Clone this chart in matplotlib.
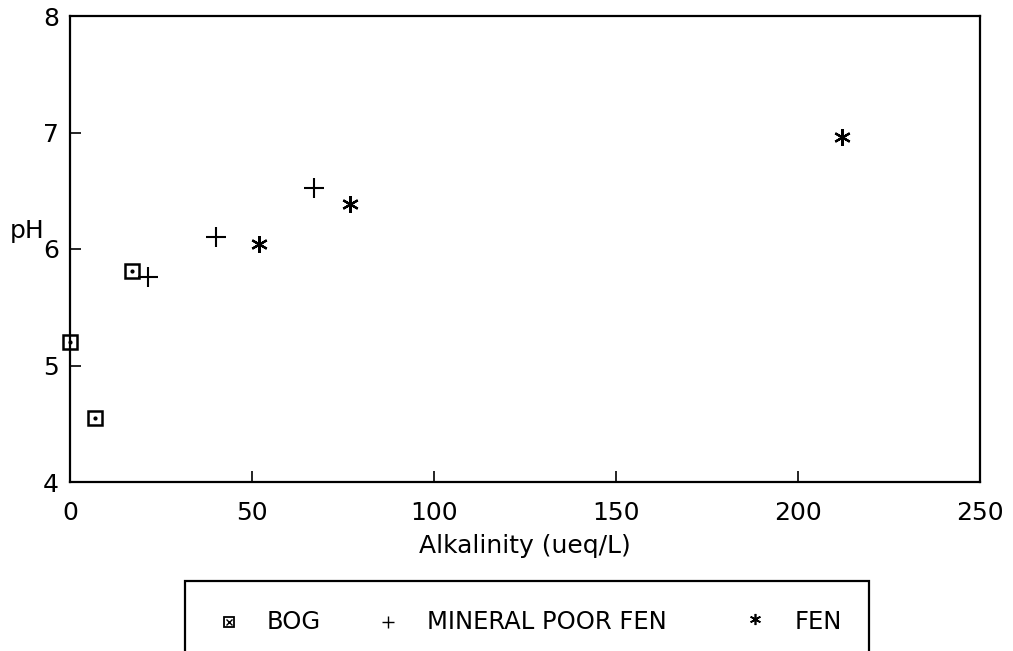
import matplotlib
matplotlib.use("Agg")
import matplotlib.pyplot as plt
from matplotlib.patches import Rectangle
from matplotlib.lines import Line2D

plt.rcParams['font.family'] = ['DejaVu Sans']

series_names = ["BOG", "MINERAL POOR FEN", "FEN"]
bog_x = [0, 7, 17]
bog_y = [5.2, 4.55, 5.81]
mpf_x = [21.5, 40, 67]
mpf_y = [5.76, 6.1, 6.52]
fen_x = [52, 77, 212]
fen_y = [6.04, 6.39, 6.96]
x_ticks = [0, 50, 100, 150, 200, 250]
y_ticks = [4, 5, 6, 7, 8]

W, H = 1013, 651
fig = plt.figure(figsize=(W / 100, H / 100), dpi=100)
ax = fig.add_axes([70 / W, (H - 482) / H, (980 - 70) / W, (482 - 16) / H])

ax.plot(bog_x, bog_y, linestyle='none', marker='s', markersize=10,
        markerfacecolor='white', markeredgecolor='black', markeredgewidth=1.8, clip_on=False)
ax.plot(bog_x, bog_y, linestyle='none', marker='.', markersize=4, color='black', clip_on=False)
ax.plot(mpf_x, mpf_y, linestyle='none', marker='+', markersize=15,
        color='black', markeredgewidth=1.5, clip_on=False)
ax.plot(fen_x, fen_y, linestyle='none', marker=(6, 2, 0), markersize=12,
        color='black', markeredgewidth=1.6, clip_on=False)

ax.set_xlim(0, 250)
ax.set_ylim(4, 8)
ax.set_xticks(x_ticks)
ax.set_yticks(y_ticks)
ax.set_xticklabels([str(v) for v in x_ticks], fontsize=18)
ax.set_yticklabels([str(v) for v in y_ticks], fontsize=18)
ax.tick_params(axis='x', direction='in', length=8, width=1.2, pad=14)
ax.tick_params(axis='y', direction='in', length=8, width=1.2, pad=8)
for s in ax.spines.values():
    s.set_linewidth(1.6)

ax.set_xlabel("Alkalinity (ueq/L)", fontsize=18, labelpad=6)
fig.text(27 / W, 1 - 231 / H, "pH", fontsize=18, ha='center', va='center')

# Legend box
lx0, lx1, ly0 = 185, 869, 581
rect = Rectangle((lx0 / W, 0 - 0.05), (lx1 - lx0) / W, (H - ly0) / H + 0.05,
                 transform=fig.transFigure, fill=False, edgecolor='black',
                 linewidth=1.6, clip_on=False)
fig.add_artist(rect)
ly = 1 - 622 / H
fig.add_artist(Line2D([229 / W], [ly], marker='s', markersize=7, markerfacecolor='white',
                      markeredgecolor='black', markeredgewidth=1.3, linestyle='none',
                      transform=fig.transFigure))
fig.add_artist(Line2D([229 / W], [ly], marker='x', markersize=4, color='black',
                      markeredgewidth=1.0, linestyle='none', transform=fig.transFigure))
fig.add_artist(Line2D([388 / W], [ly], marker='+', markersize=9, color='black',
                      markeredgewidth=1.0, linestyle='none', transform=fig.transFigure))
fig.add_artist(Line2D([755 / W], [ly + 0.004], marker=(6, 2, 0), markersize=8, color='black',
                      markeredgewidth=1.2, linestyle='none', transform=fig.transFigure))
for name, xs in zip(series_names, [267, 427, 795]):
    fig.text(xs / W, ly, name, fontsize=17.5, ha='left', va='center')

fig.savefig("out.png", dpi=100)
